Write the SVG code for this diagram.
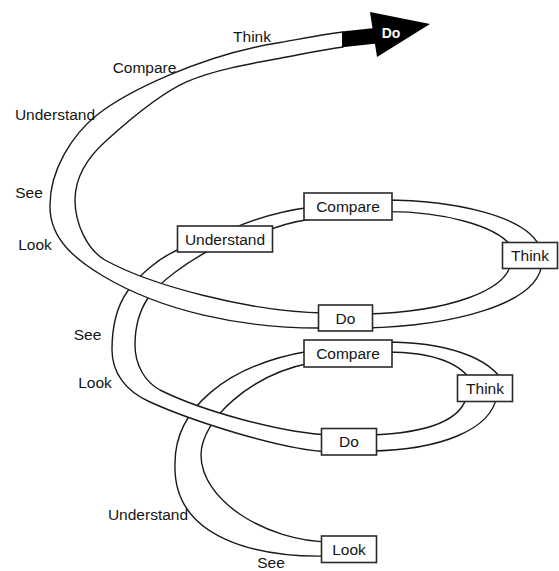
<svg xmlns="http://www.w3.org/2000/svg" width="559" height="571" viewBox="0 0 559 571">
<style>
.rib{fill:#fff;stroke:#1a1a1a;stroke-width:1.4;stroke-linejoin:round}
.box{fill:#fff;stroke:#2a2a2a;stroke-width:1.6}
.t{font-family:"Liberation Sans",Arial,sans-serif;font-size:15.5px;fill:#151515}
.c{text-anchor:middle}
</style>
<rect width="559" height="571" fill="#fff"/>
<g id="connectors">
<path class="rib" d="M330,556 C260,558 172,540 175,463 C175,410 225,365 310,351 L310,363 C250,375 201,420 201,455 C201,500 265,541 330,542 Z"/>
<path class="rib" d="M386,342 C440,342 490,355 505,385 L474,385 C462,362 430,352 386,352 Z"/>
<path class="rib" d="M497,395 C492,430 440,450 370,451 L370,435 C430,433 462,420 467,395 Z"/>
<path class="rib" d="M330,452 C280,450 190,420 150,402 C125,391 112,372 112,350 C112,325 118,305 127,292 C136,279 158,256 185,247 L218,246 C185,262 158,284 148,298 C140,310 135,325 135,345 C135,365 145,382 160,390 C200,410 280,433 330,435 Z"/>
<path class="rib" d="M232,229 C252,220 280,211 312,207 L312,219 C290,222 275,227 262,233 Z"/>
<path class="rib" d="M384,200 C450,200 530,215 541,250 L514,250 C500,225 440,211 384,211.7 Z"/>
<path class="rib" d="M542,262 C540,305 450,326 365,328 L365,314 C450,312 508,290 511,262 Z"/>
<path class="rib" d="M325,328 C240,329 160,310 103,276 C78,261 49,240 50,205 C50,170 72,135 97,115 C125,93 200,55 280,42.5 C300,39 320,35 343,32 L343,47 C320,50 300,54.7 280,58.3 C255,62.8 215,69.4 187,81.7 C159,94 127,122 107,140 C90,155 75,175 75,200 C75,225 88,250 105,260 C150,285 250,312 325,313 Z"/>
<polygon points="342,31.6 377,27.8 377,43.5 342,47.2" fill="#000"/>
<polygon points="370,12 430,24 377,57" fill="#000"/>
</g>
<g id="node-arrow-do"><text class="t c" x="391" y="38" style="fill:#fff;font-weight:bold;font-size:14px">Do</text></g>
<g id="node-think-top"><text class="t c" x="252" y="42">Think</text></g>
<g id="node-compare-top"><text class="t c" x="144.5" y="73">Compare</text></g>
<g id="node-understand-top"><text class="t c" x="55" y="120">Understand</text></g>
<g id="node-see-top"><text class="t c" x="29" y="198">See</text></g>
<g id="node-look-top"><text class="t c" x="35" y="250">Look</text></g>
<g id="node-see-mid"><text class="t c" x="87.5" y="340">See</text></g>
<g id="node-look-mid"><text class="t c" x="95" y="388">Look</text></g>
<g id="node-understand-low"><text class="t c" x="148" y="520">Understand</text></g>
<g id="node-see-low"><text class="t c" x="271" y="567.5">See</text></g>
<g id="node-understand-box"><rect class="box" x="177.5" y="226" width="95" height="26"/><text class="t c" x="225" y="244.5">Understand</text></g>
<g id="node-compare-up"><rect class="box" x="304" y="193" width="88" height="27"/><text class="t c" x="348" y="212">Compare</text></g>
<g id="node-think-up"><rect class="box" x="502.5" y="242.5" width="55" height="26"/><text class="t c" x="530" y="261">Think</text></g>
<g id="node-do-up"><rect class="box" x="318.5" y="305" width="54" height="26"/><text class="t c" x="345.5" y="323.5">Do</text></g>
<g id="node-compare-low"><rect class="box" x="304" y="340" width="88" height="27"/><text class="t c" x="348" y="359">Compare</text></g>
<g id="node-think-low"><rect class="box" x="457.5" y="375" width="55" height="26.5"/><text class="t c" x="485" y="393.5">Think</text></g>
<g id="node-do-low"><rect class="box" x="321.5" y="428.5" width="55" height="26.5"/><text class="t c" x="349" y="447">Do</text></g>
<g id="node-look-box"><rect class="box" x="321.5" y="536" width="55" height="26.5"/><text class="t c" x="349" y="555">Look</text></g>
</svg>
